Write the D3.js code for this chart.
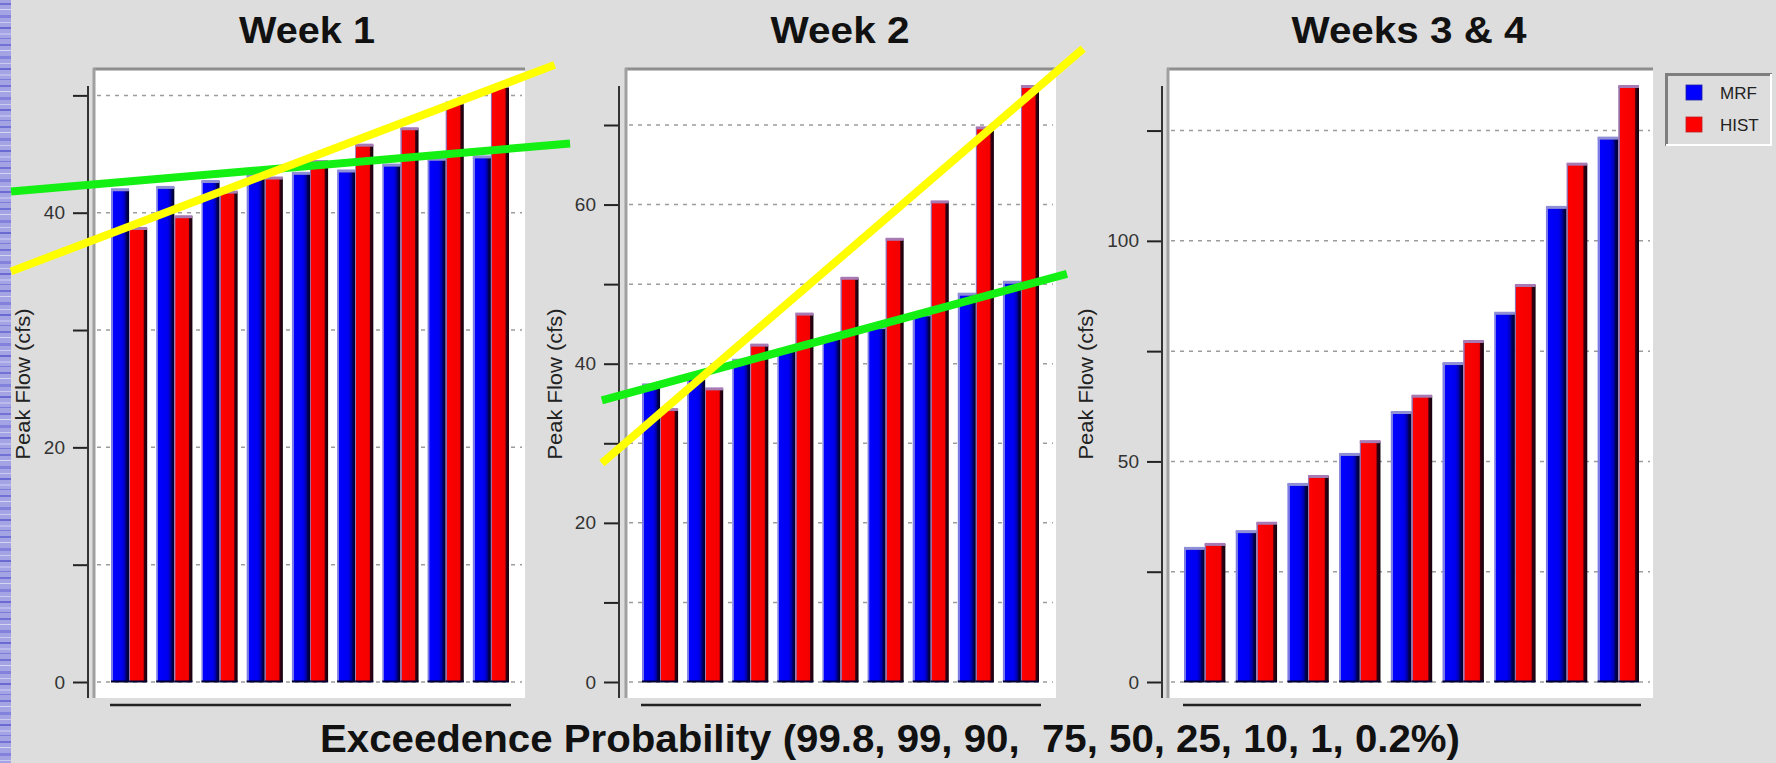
<!DOCTYPE html>
<html>
<head>
<meta charset="utf-8">
<script src="https://cdn.jsdelivr.net/npm/d3@7"></script>
<style>
  html, body { margin: 0; padding: 0; background: #dddddd; }
  svg { display: block; }
  text { font-family: "Liberation Sans", Arial, sans-serif; }
</style>
</head>
<body>
<svg id="chart" width="1776" height="763"></svg>
<script>
// Exceedence probability categories (%), shared by all three panels
const categories = ["99.8", "99", "90", "75", "50", "25", "10", "1", "0.2"];
const seriesNames = ["MRF", "HIST"];

// Peak flow (cfs) per forecast window
const week1MRF   = [42.0, 42.2, 42.7, 43.2, 43.4, 43.6, 44.1, 44.6, 44.8];
const week1HIST  = [38.7, 39.7, 41.8, 43.0, 44.4, 45.8, 47.2, 49.4, 50.8];
const week2MRF   = [37.4, 38.3, 40.5, 41.8, 43.3, 44.6, 46.2, 48.8, 50.3];
const week2HIST  = [34.3, 36.9, 42.4, 46.3, 50.8, 55.7, 60.4, 69.7, 74.9];
const week34MRF  = [30.4, 34.2, 44.9, 51.7, 61.2, 72.3, 83.7, 107.7, 123.4];
const week34HIST = [31.3, 36.1, 46.7, 54.6, 64.9, 77.3, 90.0, 117.5, 135.1];

// Axis ticks: minor step / labelled step per panel
const tickSteps  = [10, 10, 25];
const labelSteps = [20, 20, 50];

// Hand-drawn trend lines: [category index, flow] end points
const week1Green  = [[-2.61, 41.8], [9.75, 45.9]];
const week1Yellow = [[-2.61, 35.0], [9.41, 52.6]];
const week2Green  = [[-1.29, 35.4], [9.02, 51.3]];
const week2Yellow = [[-1.29, 27.5], [9.38, 79.6]];

const titles = ["Week 1", "Week 2", "Weeks 3 & 4"];
const yLabel = "Peak Flow (cfs)";
const xTitle = "Exceedence Probability (99.8, 99, 90,  75, 50, 25, 10, 1, 0.2%)";

const svg = d3.select("#chart");
const defs = svg.append("defs");

// textured blue strip on the left edge of the slide
const pat = defs.append("pattern").attr("id", "strip")
  .attr("patternUnits", "userSpaceOnUse").attr("width", 12).attr("height", 41);
pat.append("rect").attr("width", 12).attr("height", 41).attr("fill", "#a4a4e4");
[[3, 2, "#7272d6"], [9, 1, "#d4d4f4"], [15, 3, "#8282dc"], [22, 1, "#cacaf2"],
 [27, 2, "#6a6ad2"], [33, 2, "#babaee"], [38, 1, "#7c7cda"]].forEach(([y, h, c]) =>
  pat.append("rect").attr("y", y).attr("width", 12).attr("height", h).attr("fill", c));

// bar shading
function gradient(id, stops) {
  const g = defs.append("linearGradient").attr("id", id)
    .attr("x1", 0).attr("x2", 1).attr("y1", 0).attr("y2", 0);
  stops.forEach(([o, c]) => g.append("stop").attr("offset", o).attr("stop-color", c));
}
gradient("gMRF", [["0%", "#7c7ce4"], ["10%", "#7c7ce4"], ["11%", "#0000ff"], ["62%", "#0000f0"],
                  ["78%", "#0000b0"], ["86%", "#00005a"], ["100%", "#000028"]]);
gradient("gHIST", [["0%", "#9a6aa8"], ["6%", "#9a6aa8"], ["7%", "#ff0000"], ["78%", "#f20000"],
                   ["84%", "#3a0010"], ["100%", "#100010"]]);
const capColor = { MRF: "#8f8fd6", HIST: "#a77ab4" };
const fillId = { MRF: "url(#gMRF)", HIST: "url(#gHIST)" };

svg.append("rect").attr("x", 0).attr("y", 0).attr("width", 11).attr("height", 763)
  .attr("fill", "url(#strip)");

const panels = [
  { mrf: week1MRF,  hist: week1HIST,  plotL: 93,   plotR: 525,  axisX: 88,   barL: 111,  barR: 509,
    titleX: 307,  titleW: 136, labelX: 23 },
  { mrf: week2MRF,  hist: week2HIST,  plotL: 625,  plotR: 1056, axisX: 619,  barL: 642,  barR: 1039,
    titleX: 840,  titleW: 139, labelX: 555 },
  { mrf: week34MRF, hist: week34HIST, plotL: 1167, plotR: 1653, axisX: 1162, barL: 1184, barR: 1639,
    titleX: 1409, titleW: 235, labelX: 1086 }
];

const plotTop = 68, plotBottom = 698, zeroY = 682, topY = 86;
const scales = [];

panels.forEach((p, i) => {
  const g = svg.append("g");
  const maxV = d3.max(p.mrf.concat(p.hist));
  const y = d3.scaleLinear().domain([0, maxV]).range([zeroY, topY]);
  const x0 = d3.scaleBand().domain(categories).range([p.barL, p.barR]).paddingInner(0.2).paddingOuter(0);
  const x1 = d3.scaleBand().domain(seriesNames).range([0, x0.bandwidth()]).padding(0);
  const xi = d3.scaleLinear().domain([0, categories.length - 1])
    .range([x0(categories[0]) + x0.bandwidth() / 2, x0(categories[categories.length - 1]) + x0.bandwidth() / 2]);
  scales.push({ x: xi, y: y });

  // title
  g.append("text").attr("x", p.titleX).attr("y", 43).attr("text-anchor", "middle")
    .attr("font-size", 36).attr("font-weight", "bold").attr("fill", "#111")
    .attr("textLength", p.titleW).attr("lengthAdjust", "spacingAndGlyphs")
    .text(titles[i]);

  // plot background with bevelled top/left edge
  g.append("rect").attr("x", p.plotL).attr("y", plotTop).attr("width", p.plotR - p.plotL)
    .attr("height", plotBottom - plotTop).attr("fill", "#ffffff");
  g.append("line").attr("x1", p.plotL).attr("x2", p.plotR).attr("y1", plotTop + 1).attr("y2", plotTop + 1)
    .attr("stroke", "#8e8e8e").attr("stroke-width", 3);
  g.append("line").attr("x1", p.plotL + 1).attr("x2", p.plotL + 1).attr("y1", plotTop).attr("y2", plotBottom)
    .attr("stroke", "#a0a0a0").attr("stroke-width", 3);

  // dashed gridlines
  const ticks = d3.range(0, maxV + 0.001, tickSteps[i]);
  g.append("g").selectAll("line").data(ticks).join("line")
    .attr("x1", p.plotL + 4).attr("x2", p.plotR - 3)
    .attr("y1", d => y(d)).attr("y2", d => y(d))
    .attr("stroke", "#9c9c9c").attr("stroke-width", 1.5).attr("stroke-dasharray", "4,5");

  // bars
  const groups = g.append("g").selectAll("g").data(categories).join("g")
    .attr("transform", c => `translate(${x0(c)},0)`);
  groups.each(function (c, k) {
    const vals = [{ s: "MRF", v: p.mrf[k] }, { s: "HIST", v: p.hist[k] }];
    const gg = d3.select(this);
    vals.forEach(d => {
      const bx = x1(d.s), bw = x1.bandwidth(), by = y(d.v), bh = y(0) - y(d.v);
      gg.append("rect").attr("x", bx).attr("y", by).attr("width", bw).attr("height", bh)
        .attr("fill", fillId[d.s]);
      gg.append("rect").attr("x", bx).attr("y", by - 1).attr("width", bw).attr("height", 3)
        .attr("fill", capColor[d.s]);
      gg.append("rect").attr("x", bx).attr("y", y(0) - 1.5).attr("width", bw).attr("height", 2)
        .attr("fill", "#000033");
    });
  });

  // y axis
  const axis = d3.axisLeft(y).tickValues(ticks).tickSize(15).tickSizeOuter(0).tickPadding(8)
    .tickFormat(d => (d % labelSteps[i] === 0 ? d3.format("d")(d) : ""));
  const ag = g.append("g").attr("transform", `translate(${p.axisX},0)`).call(axis);
  ag.select(".domain").remove();
  ag.selectAll(".tick line").attr("stroke", "#222").attr("stroke-width", 2);
  ag.selectAll(".tick text").attr("font-size", 19).attr("fill", "#333")
    .attr("font-family", "'Liberation Sans', Arial, sans-serif");
  g.append("line").attr("x1", p.axisX).attr("x2", p.axisX).attr("y1", y.range()[1]).attr("y2", plotBottom)
    .attr("stroke", "#333").attr("stroke-width", 2);

  // y axis label
  g.append("text").attr("transform", `translate(${p.labelX + 7},${(zeroY + topY) / 2}) rotate(-90)`)
    .attr("text-anchor", "middle").attr("font-size", 20).attr("fill", "#222")
    .attr("textLength", 151).attr("lengthAdjust", "spacingAndGlyphs")
    .text(yLabel);

  // category axis line
  g.append("line").attr("x1", x0.range()[0] - 1).attr("x2", x0.range()[1] + 2)
    .attr("y1", 705).attr("y2", 705).attr("stroke", "#222").attr("stroke-width", 2.5);
});

// legend
const lg = svg.append("g");
lg.append("rect").attr("x", 1665).attr("y", 73).attr("width", 107).attr("height", 73).attr("fill", "#dddddd");
lg.append("path").attr("d", "M1666.5,146 V74.5 H1772").attr("fill", "none").attr("stroke", "#7e7e7e").attr("stroke-width", 3);
lg.append("path").attr("d", "M1666,145 H1771 V74").attr("fill", "none").attr("stroke", "#ffffff").attr("stroke-width", 2);
const legendColors = { MRF: "#0000ff", HIST: "#ff0000" };
seriesNames.forEach((s, k) => {
  const yy = 85 + k * 32;
  lg.append("rect").attr("x", 1686).attr("y", yy).attr("width", 16).attr("height", 15)
    .attr("fill", legendColors[s]).attr("stroke", k ? "#c02020" : "#2020a0").attr("stroke-width", 0.8);
  lg.append("text").attr("x", 1720).attr("y", yy + 14).attr("font-size", 17).attr("fill", "#222").text(s);
});

// hand-drawn trend lines
const line = (sc) => d3.line().x(d => sc.x(d[0])).y(d => sc.y(d[1]));
const trend = svg.append("g").attr("fill", "none").attr("stroke-width", 8);
trend.append("path").attr("d", line(scales[0])(week1Green)).attr("stroke", "#14f014");
trend.append("path").attr("d", line(scales[1])(week2Green)).attr("stroke", "#14f014");
trend.append("path").attr("d", line(scales[0])(week1Yellow)).attr("stroke", "#ffff00");
trend.append("path").attr("d", line(scales[1])(week2Yellow)).attr("stroke", "#ffff00");

// shared x-axis title
svg.append("text").attr("x", 890).attr("y", 752).attr("text-anchor", "middle")
  .attr("font-size", 38).attr("font-weight", "bold").attr("fill", "#111")
  .attr("xml:space", "preserve").style("white-space", "pre")
  .attr("textLength", 1140).attr("lengthAdjust", "spacingAndGlyphs")
  .text(xTitle);
</script>
</body>
</html>
